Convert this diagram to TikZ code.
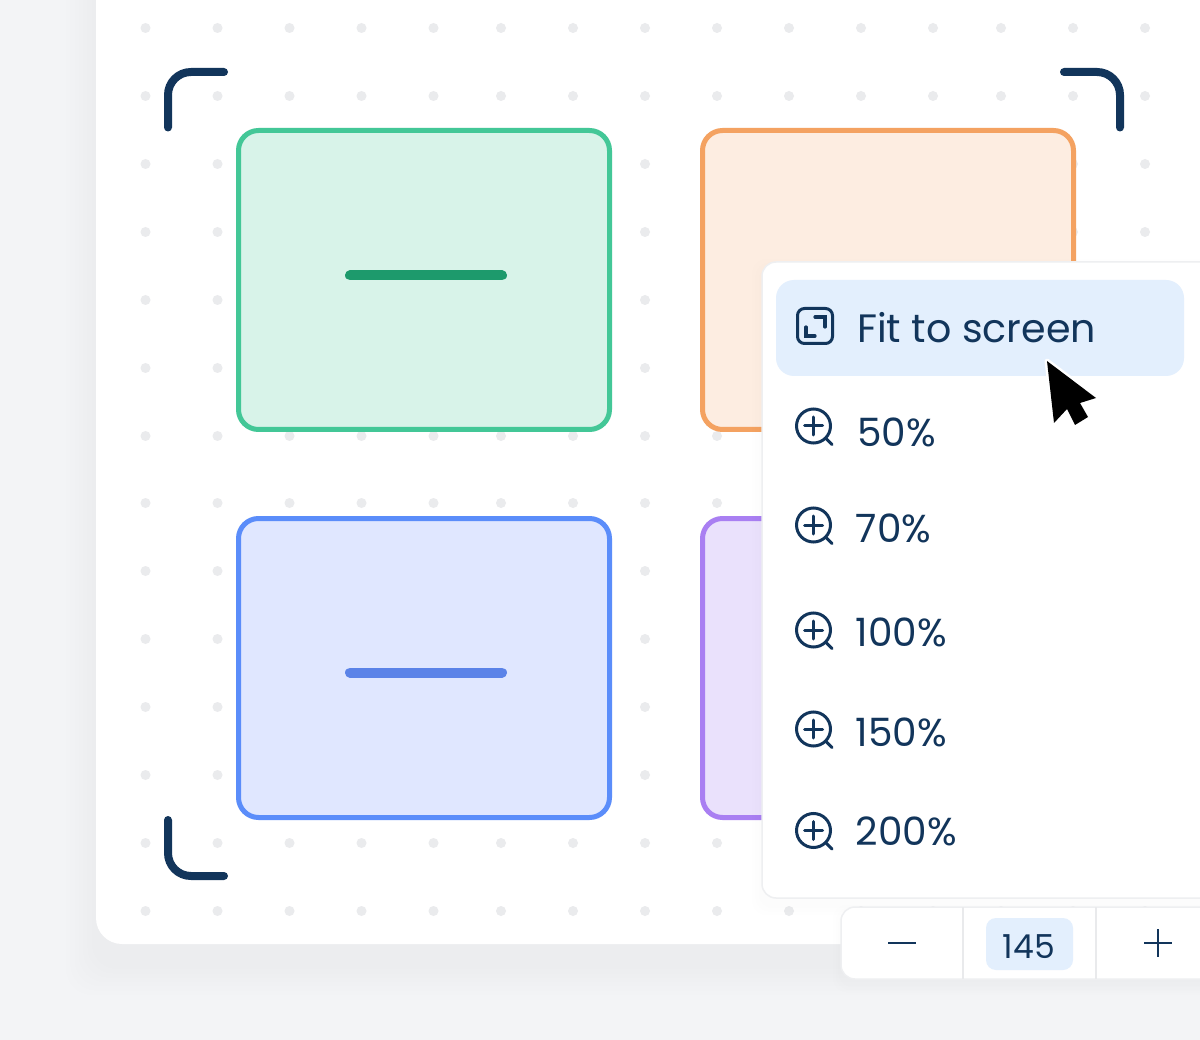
\documentclass[tikz,border=0pt]{standalone}
\usepackage{fontspec}
\setmainfont{Poppins}
\definecolor{bgc}{HTML}{F3F4F6}
\definecolor{navy}{HTML}{12355B}
\definecolor{dotc}{HTML}{EAEBED}
\definecolor{hl}{HTML}{E3EFFD}
\definecolor{sepc}{HTML}{E9EAEC}
\definecolor{edgec}{HTML}{EEEFF1}
\definecolor{gs}{HTML}{43C797}\definecolor{gf}{HTML}{D8F3E9}\definecolor{gb}{HTML}{1D9A6C}
\definecolor{os}{HTML}{F4A261}\definecolor{of}{HTML}{FDEDE1}
\definecolor{bs}{HTML}{5B8DFA}\definecolor{bf}{HTML}{E0E7FF}\definecolor{bb}{HTML}{5B83E8}
\definecolor{ps}{HTML}{A97FF2}\definecolor{pf}{HTML}{EAE1FC}
\tikzset{
  tile/.style={draw=#1,line width=5pt,rounded corners=20pt,minimum width=371pt,minimum height=299pt,inner sep=0pt,outer sep=0pt},
  bar/.style={line width=10pt,line cap=round},
  bracket/.style={draw=navy,line width=8pt,line cap=round,rounded corners=23pt},
  icon/.style={draw=navy,line width=3pt,line cap=round},
  label/.style={text=navy,anchor=base west,inner sep=0pt,font=\fontsize{39}{39}\selectfont},
}
\newcommand{\softshadow}[7]{% x1 y1 x2 y2 radius spread layers
  \foreach \s in {1,...,#7}{
    \fill[black,opacity=0.0041,rounded corners=#5]
      ({#1-#6*\s/#7},{#2-#6*\s/#7+#6*0.7}) rectangle ({#3+#6*\s/#7},{#4+#6*\s/#7+#6*0.7});
  }
}
\newcommand{\zoomicon}[2]{%
  \draw[icon] (#1,#2) circle (17pt);
  \draw[icon] (#1+12.5,#2+12.5) -- (#1+18.5,#2+18.5);
  \draw[icon] (#1-9,#2) -- (#1+9,#2);
  \draw[icon] (#1,#2-9) -- (#1,#2+9);
}
\begin{document}
\begin{tikzpicture}[x=1pt,y=-1pt]
\useasboundingbox (0,0) rectangle (1200,1040);
\clip (0,0) rectangle (1200,1040);
\fill[bgc] (0,0) rectangle (1200,1040);
% card
\softshadow{96}{-40}{1260}{944}{26pt}{30}{7}
\fill[white,rounded corners=26pt] (96,-40) rectangle (1260,944);
% dots
\foreach \x in {145.5,217.5,289.5,361.5,433.5,501,573,645,717,789,861,933,1001,1073,1145}
  \foreach \y in {28,96,164,232,300,368,436,503,571,639,707,775,843,911}
    \fill[dotc] (\x,\y) circle (5pt);
% tiles
\node[tile=gs,fill=gf] (green) at (424,280) {};
\node[tile=os,fill=of] (orange) at (888,280) {};
\node[tile=bs,fill=bf] (blue) at (424,668) {};
\node[tile=ps,fill=pf] (purple) at (888,668) {};
\draw[bar,gb] (350,275.5) -- (502,275.5);
\draw[bar,bb] (350,672.5) -- (502,672.5);
% brackets
\draw[bracket] (168,127.5) -- (168,72) -- (224,72);
\draw[bracket] (168,820) -- (168,876) -- (224,876);
\draw[bracket] (1064,72) -- (1120,72) -- (1120,127.5);
% popup
\softshadow{762}{262}{1260}{898}{14pt}{10}{3}
\fill[white,draw=edgec,line width=1.5pt,rounded corners=14pt] (762,262) rectangle (1260,898);
\fill[hl,rounded corners=18pt] (776,280) rectangle (1184,376);
% fit icon
\draw[icon,rounded corners=7pt] (797.5,308.5) rectangle (832.5,343.5);
\draw[icon,line width=3.2pt] (815,317) -- (825,317) -- (825,327);
\draw[icon,line width=3.2pt] (806,327) -- (806,336) -- (815,336);
\node[label,font=\fontsize{39.6}{39.6}\selectfont] (fit) at (857,343) {Fit to screen};
\zoomicon{813.5}{426}
\node[label] (p50) at (857,447) {50\%};
\zoomicon{813.5}{525}
\node[label] (p70) at (855.5,542) {70\%};
\zoomicon{813.5}{630}
\node[label] (p100) at (855.5,646) {100\%};
\zoomicon{813.5}{729}
\node[label] (p150) at (855.5,746) {150\%};
\zoomicon{813.5}{830.5}
\node[label] (p200) at (855.5,845) {200\%};
% cursor
\draw[white,fill=black,line width=5pt,line join=round]
  (1047,361) -- (1096,398) -- (1080,403) -- (1088,417) -- (1075,425) -- (1067,409) -- (1054,423) -- cycle;
\fill[black]
  (1047,361) -- (1096,398) -- (1080,403) -- (1088,417) -- (1075,425) -- (1067,409) -- (1054,423) -- cycle;
% toolbar
\softshadow{841}{907}{1260}{979}{14pt}{8}{3}
\fill[white,draw=edgec,line width=1.5pt,rounded corners=14pt] (841,907) rectangle (1260,979);
\draw[sepc,line width=1.8pt] (963,907) -- (963,979);
\draw[sepc,line width=1.8pt] (1096,907) -- (1096,979);
\draw[icon,line cap=butt,line width=2.6pt] (888,943) -- (916,943);
\fill[hl,rounded corners=10pt] (986,918) rectangle (1073,970);
\node[text=navy,anchor=base,inner sep=0pt,font=\fontsize{33}{33}\selectfont] (zoomval) at (1029,958) {145};
\draw[icon,line cap=butt,line width=2.6pt] (1144,943) -- (1172,943);
\draw[icon,line cap=butt,line width=2.6pt] (1158,929) -- (1158,957);
\end{tikzpicture}
\end{document}
